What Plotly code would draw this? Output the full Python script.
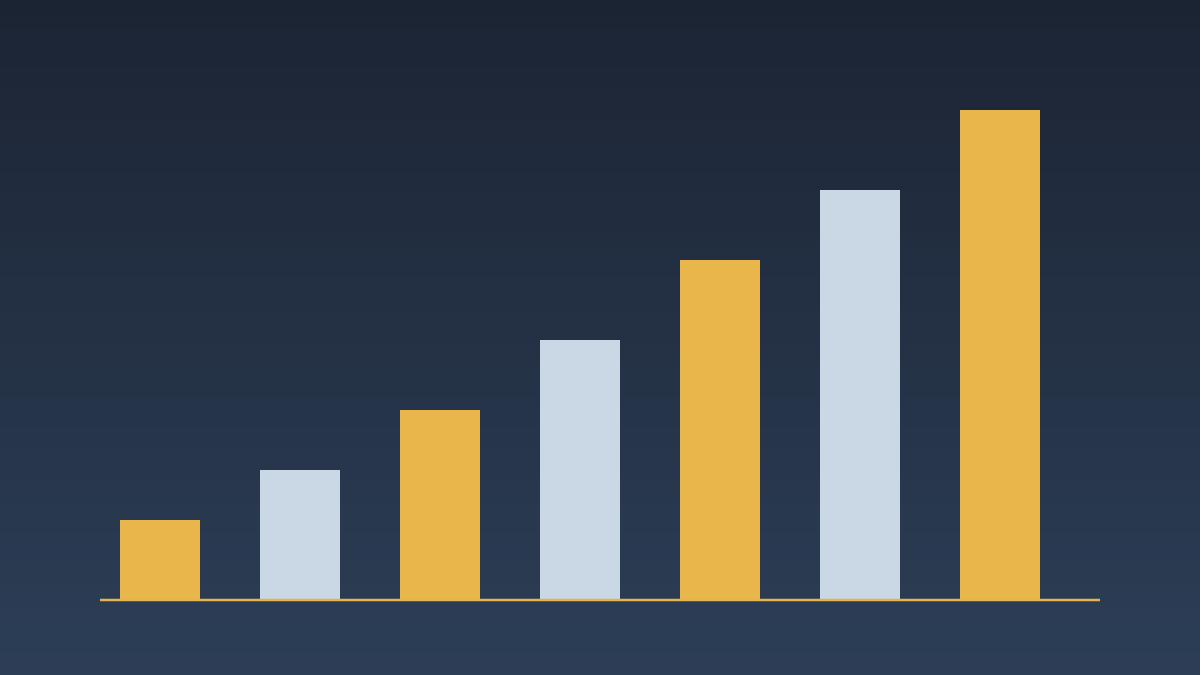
import plotly.graph_objects as go

# bar heights in baseline units, left to right
positions = [0, 1, 2, 3, 4, 5, 6]
values = [80, 130, 190, 260, 340, 410, 490]
bar_colors = ["#e8b64b", "#cad8e5", "#e8b64b", "#cad8e5", "#e8b64b", "#cad8e5", "#e8b64b"]

W, H = 1200, 675

fig = go.Figure()
fig.add_trace(go.Bar(
    x=positions, y=values,
    marker=dict(color=bar_colors, line_width=0),
    hoverinfo="skip",
))

# vertical gradient background made from thin bands
top, bottom = (28, 36, 52), (44, 62, 86)
n = 90
shapes = []
for i in range(n):
    t = i / (n - 1)
    c = tuple(round(top[k] + (bottom[k] - top[k]) * t) for k in range(3))
    shapes.append(dict(
        type="rect", xref="paper", yref="paper", layer="below",
        x0=0, x1=1, y0=1 - (i + 1) / n, y1=1 - i / n + 0.002,
        fillcolor="rgb(%d,%d,%d)" % c, line_width=0,
    ))

# gold baseline
shapes.append(dict(
    type="line", xref="paper", yref="y", layer="above",
    x0=100 / W, x1=1100 / W, y0=0, y1=0,
    line=dict(color="#e2b44f", width=2.5),
))

fig.update_layout(
    width=W, height=H,
    margin=dict(l=0, r=0, t=0, b=0),
    paper_bgcolor="#24314a", plot_bgcolor="rgba(0,0,0,0)",
    showlegend=False,
    bargap=60 / 140,
    shapes=shapes,
)
fig.update_xaxes(visible=False, range=[-160 / 140, 1040 / 140])
fig.update_yaxes(visible=False, range=[-75, 600])

# drop the browser's default body margin so the chart fills the window
fig.write_html(
    "out.html",
    config={"displayModeBar": False},
    post_script="document.body.style.margin='0';document.body.style.overflow='hidden';",
)
